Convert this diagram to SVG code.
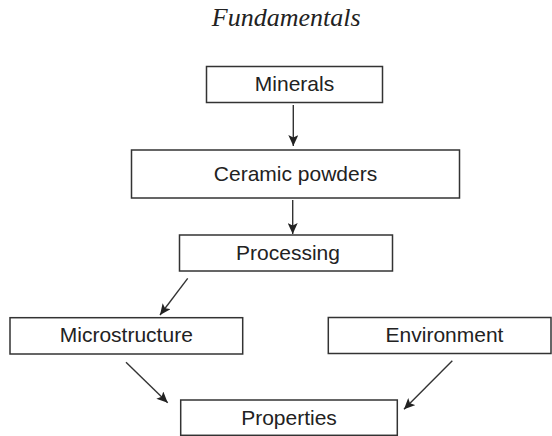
<svg xmlns="http://www.w3.org/2000/svg" width="552" height="436" viewBox="0 0 552 436">
<style>
.box{fill:#fff;stroke:#333;stroke-width:1.5}
.lbl{font-family:"Liberation Sans",Arial,sans-serif;font-size:21px;fill:#222;text-anchor:middle}
.title{font-family:"Liberation Serif","Times New Roman",serif;font-style:italic;font-size:26px;fill:#222;text-anchor:middle}
.conn{stroke:#333;stroke-width:1.4;fill:none;marker-end:url(#ah)}
</style>
<defs>
<marker id="ah" markerUnits="userSpaceOnUse" markerWidth="12" markerHeight="10" refX="11" refY="5" orient="auto">
<path d="M0,0 L11,5 L0,10 L2.5,5 Z" fill="#222"/>
</marker>
</defs>
<rect width="552" height="436" fill="#fff"/>
<text class="title" x="286.2" y="26">Fundamentals</text>
<g id="minerals"><rect class="box" x="206.5" y="66.5" width="176" height="36"/><text class="lbl" x="294.5" y="91">Minerals</text></g>
<g id="ceramic"><rect class="box" x="131.5" y="150" width="328" height="48"/><text class="lbl" x="295.5" y="181">Ceramic powders</text></g>
<g id="processing"><rect class="box" x="179.5" y="235" width="213" height="36"/><text class="lbl" x="288" y="260">Processing</text></g>
<g id="microstructure"><rect class="box" x="10" y="317.7" width="232.7" height="36.3"/><text class="lbl" x="126.3" y="341.5">Microstructure</text></g>
<g id="environment"><rect class="box" x="328.3" y="317.5" width="222.7" height="36"/><text class="lbl" x="444.5" y="341.5">Environment</text></g>
<g id="properties"><rect class="box" x="180.7" y="400" width="216.6" height="35.3"/><text class="lbl" x="289" y="425">Properties</text></g>
<g id="connectors">
<line class="conn" x1="293.3" y1="105" x2="293.3" y2="146"/>
<line class="conn" x1="292.7" y1="200" x2="292.7" y2="234"/>
<line class="conn" x1="187.7" y1="278.3" x2="160" y2="315"/>
<line class="conn" x1="126" y1="362.3" x2="167.7" y2="402.7"/>
<line class="conn" x1="452.3" y1="360.7" x2="404" y2="409.3"/>
</g>
</svg>
